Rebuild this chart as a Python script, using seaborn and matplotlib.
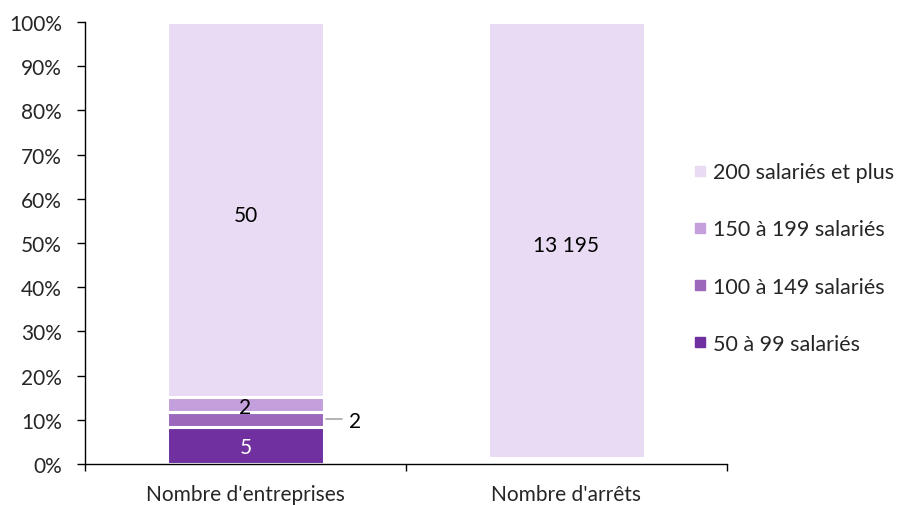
import matplotlib
matplotlib.use("Agg")
import matplotlib.pyplot as plt
import seaborn as sns
import pandas as pd
import numpy as np
from matplotlib.lines import Line2D

categories = ["Nombre d'entreprises", "Nombre d'arrêts"]
size_classes = ["50 à 99 salariés", "100 à 149 salariés", "150 à 199 salariés", "200 salariés et plus"]
values_50_99 = [5, 60]
values_100_149 = [2, 50]
values_150_199 = [2, 80]
values_200_plus = [50, 13195]
colors = ["#7030A0", "#9B68BC", "#C3A0DB", "#E8DBF3"]

sns.set_theme(style="white")
plt.rcParams["font.family"] = ["Lato", "DejaVu Sans"]

series = [values_50_99, values_100_149, values_150_199, values_200_plus]
df = pd.DataFrame({c: s for c, s in zip(size_classes, series)}, index=categories)
totals = df.sum(axis=1)
pct = df.div(totals, axis=0) * 100

fig = plt.figure(figsize=(9.03, 5.06), dpi=100)
ax = fig.add_axes([85 / 903, (506 - 465) / 506, (727 - 85) / 903, (465 - 23) / 506])

bottom = np.zeros(len(categories))
for cls, col in zip(size_classes, colors):
    d = pd.DataFrame({"cat": categories, "pct": pct[cls].values})
    sns.barplot(data=d, x="cat", y="pct", color=col, bottom=bottom, width=0.49,
                edgecolor="white", linewidth=2.2, ax=ax, saturation=1)
    bottom = bottom + pct[cls].values
if ax.get_legend() is not None:
    ax.get_legend().remove()

# Labels
fs = 15
cum = pct.cumsum(axis=1)
b1 = categories[0]
ax.text(0, cum.loc[b1, size_classes[0]] / 2 - 0.5, f"{df.loc[b1, size_classes[0]]}", ha="center", va="center",
        color="white", fontsize=fs)
y100 = cum.loc[b1, size_classes[0]] + pct.loc[b1, size_classes[1]] / 2
ax.plot([0.25, 0.30], [y100, y100], color="#A6A6A6", lw=1.2, clip_on=False)
ax.text(0.34, y100 - 0.4, f"{df.loc[b1, size_classes[1]]}", ha="center", va="center", fontsize=fs, color="black")
y150 = cum.loc[b1, size_classes[1]] + pct.loc[b1, size_classes[2]] / 2
ax.text(0, y150 - 0.6, f"{df.loc[b1, size_classes[2]]}", ha="center", va="center", fontsize=fs, color="black")
y200 = cum.loc[b1, size_classes[2]] + pct.loc[b1, size_classes[3]] / 2
ax.text(0, y200 - 1.2, f"{df.loc[b1, size_classes[3]]}", ha="center", va="center", fontsize=fs, color="black")
b2 = categories[1]
y2 = cum.loc[b2, size_classes[2]] + pct.loc[b2, size_classes[3]] / 2
ax.text(1, y2 - 1.2, f"{df.loc[b2, size_classes[3]]:,}".replace(",", " "), ha="center", va="center",
        fontsize=fs, color="black")

ax.set_ylim(0, 100)
ax.set_xlim(-0.5, 1.5)
ax.set_yticks(np.arange(0, 101, 10))
ax.set_yticklabels([f"{v}%" for v in range(0, 101, 10)], fontsize=fs)
ax.set_xticks([0, 1])
ax.set_xticklabels(categories, fontsize=fs)
ax.set_xlabel("")
ax.set_ylabel("")
for s in ["top", "right"]:
    ax.spines[s].set_visible(False)
for s in ["left", "bottom"]:
    ax.spines[s].set_color("black")
    ax.spines[s].set_linewidth(1.0)
ax.tick_params(axis="y", which="both", left=True, length=5.5, width=1, color="black", pad=11)
ax.tick_params(axis="x", which="major", bottom=False, length=0, pad=14.5)
ax.set_xticks([-0.5, 0.5, 1.5], minor=True)
ax.tick_params(axis="x", which="minor", bottom=True, length=5, width=1, color="black", direction="out")

leg_handles = [Line2D([0], [0], marker="s", linestyle="", markersize=6.5, markerfacecolor=c,
                      markeredgecolor=c) for c in colors]
fig.legend(leg_handles[::-1], size_classes[::-1], loc="center left",
           bbox_to_anchor=(694 / 903, 1 - 259 / 506), frameon=False, fontsize=fs + 0.5,
           handletextpad=0.3, labelspacing=1.72, handlelength=0.6, borderpad=0, borderaxespad=0)

fig.savefig("out.png", dpi=100)
